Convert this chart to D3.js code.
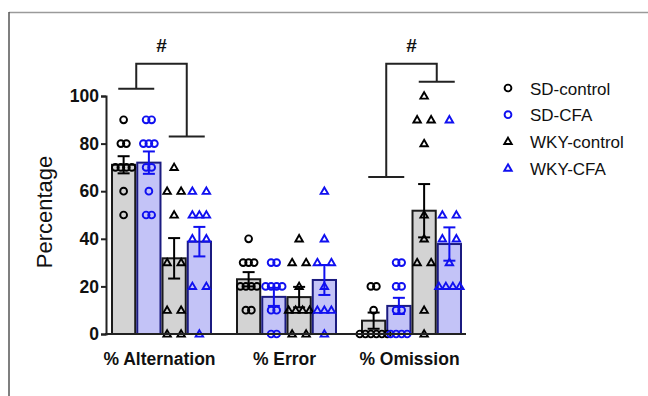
<!DOCTYPE html>
<html>
<head>
<meta charset="utf-8">
<script src="https://cdn.jsdelivr.net/npm/d3@7"></script>
<style>
  body { margin: 0; background: #fff; }
  text { font-family: Arial, "Liberation Sans", sans-serif; }
</style>
</head>
<body>
<div class="chart"></div>
<script>
var categories = ["% Alternation", "% Error", "% Omission"];
var seriesNames = ["SD-control", "SD-CFA", "WKY-control", "WKY-CFA"];
var yTicks = [0, 20, 40, 60, 80, 100];

// bar heights (mean) and SEM per category
var sdControlMean = [71.1, 23, 5.6];
var sdCfaMean = [72, 15.6, 11.8];
var wkyControlMean = [31.8, 15.5, 51.8];
var wkyCfaMean = [38.8, 22.7, 37.8];

var sdControlSem = [3.6, 3, 3.4];
var sdCfaSem = [4.7, 3.8, 3.4];
var wkyControlSem = [8.5, 4.3, 11.2];
var wkyCfaSem = [6.2, 6.3, 7];

// individual animals
var sdControlPts = [
    [90, 80, 80, 70, 70, 70, 70, 60, 50],
    [40, 30, 30, 30, 20, 20, 20, 20, 10, 10],
    [20, 20, 10, 0, 0, 0, 0, 0, 0]
];
var sdCfaPts = [
    [90, 90, 80, 80, 80, 70, 70, 60, 50, 50],
    [30, 30, 20, 20, 20, 20, 10, 10, 0, 0],
    [30, 30, 20, 20, 10, 10, 0, 0, 0, 0]
];
var wkyControlPts = [
    [70, 60, 60, 50, 30, 30, 10, 10, 0, 0],
    [40, 30, 30, 20, 10, 10, 10, 10, 0, 0],
    [100, 90, 90, 80, 50, 40, 30, 30, 10, 0]
];
var wkyCfaPts = [
    [60, 60, 50, 50, 50, 40, 40, 20, 20, 0],
    [60, 40, 30, 30, 20, 10, 10, 10, 0],
    [90, 50, 50, 40, 40, 30, 20, 20, 20, 20]
];

// significance brackets (values in % units)
var brackets = [
    { cat: "% Alternation", leftFoot: 103, rightFoot: 83, top: 113.5 },
    { cat: "% Omission", leftFoot: 66, rightFoot: 106, top: 113.5 }
];

var series = [
    { name: seriesNames[0], mean: sdControlMean, sem: sdControlSem, pts: sdControlPts, shape: "circle", color: "#000", bar: "#d3d3d3", edge: "#1a1a1a" },
    { name: seriesNames[1], mean: sdCfaMean, sem: sdCfaSem, pts: sdCfaPts, shape: "circle", color: "#1010f0", bar: "#c3c3f7", edge: "#1b1b80" },
    { name: seriesNames[2], mean: wkyControlMean, sem: wkyControlSem, pts: wkyControlPts, shape: "triangle", color: "#000", bar: "#d3d3d3", edge: "#1a1a1a" },
    { name: seriesNames[3], mean: wkyCfaMean, sem: wkyCfaSem, pts: wkyCfaPts, shape: "triangle", color: "#1010f0", bar: "#c3c3f7", edge: "#1b1b80" }
];

var W = 648, H = 396;

var svg = d3.select('.chart')
    .append('svg')
    .attr('width', W)
    .attr('height', H)
    .style('display', 'block');

// panel frame
svg.append('line').attr('x1', 9).attr('x2', W).attr('y1', 12.5).attr('y2', 12.5)
    .attr('stroke', '#9a9a9a').attr('stroke-width', 1.5);
svg.append('line').attr('x1', 9).attr('x2', 9).attr('y1', 12).attr('y2', H)
    .attr('stroke', '#555').attr('stroke-width', 1.5);

var yScale = d3.scaleLinear().domain([0, 100]).range([334, 96]);

var x0 = d3.scaleBand()
    .domain(categories)
    .range([111.5, 461.5])
    .paddingInner(0.2)
    .paddingOuter(0);

var x1 = d3.scaleBand()
    .domain(seriesNames)
    .range([0, x0.bandwidth()])
    .paddingInner(0.08)
    .paddingOuter(0.02);

function cx(cat, name) {
    return x0(cat) + x1(name) + x1.bandwidth() / 2;
}

var triangle = d3.symbol().type(d3.symbolTriangle).size(24);

// bars
series.forEach(function (s) {
    var g = svg.append('g');
    g.selectAll('rect')
        .data(categories)
        .enter()
        .append('rect')
        .attr('x', function (c) { return x0(c) + x1(s.name); })
        .attr('y', function (c, i) { return yScale(s.mean[i]); })
        .attr('width', x1.bandwidth())
        .attr('height', function (c, i) { return yScale(0) - yScale(s.mean[i]); })
        .attr('fill', s.bar)
        .attr('stroke', s.edge)
        .attr('stroke-width', 2);
});

// points, spread sideways when values coincide
series.forEach(function (s) {
    var g = svg.append('g');
    categories.forEach(function (c, i) {
        var counts = d3.rollup(s.pts[i], function (v) { return v.length; }, function (d) { return d; });
        var seen = new Map();
        s.pts[i].forEach(function (v) {
            var n = counts.get(v);
            var j = seen.get(v) || 0;
            seen.set(v, j + 1);
            var step = s.shape === "circle" ? 5.5 : (n == 2 ? 14 : 7);
            var px = cx(c, s.name) + (j - (n - 1) / 2) * step;
            var py = yScale(v);
            if (s.shape === "circle") {
                g.append('circle')
                    .attr('cx', px).attr('cy', py).attr('r', 3.4)
                    .attr('fill', 'none').attr('stroke', s.color).attr('stroke-width', 1.9);
            } else {
                g.append('path')
                    .attr('d', triangle)
                    .attr('transform', 'translate(' + px + ',' + (py + 0.5) + ')')
                    .attr('fill', 'none').attr('stroke', s.color).attr('stroke-width', 1.9);
            }
        });
    });
});

// error bars
series.forEach(function (s) {
    var g = svg.append('g').attr('stroke', s.color).attr('stroke-width', 2);
    categories.forEach(function (c, i) {
        var x = cx(c, s.name);
        var lo = yScale(s.mean[i] - s.sem[i]);
        var hi = yScale(s.mean[i] + s.sem[i]);
        g.append('line').attr('x1', x).attr('x2', x).attr('y1', lo).attr('y2', hi);
        g.append('line').attr('x1', x - 6).attr('x2', x + 6).attr('y1', lo).attr('y2', lo);
        g.append('line').attr('x1', x - 6).attr('x2', x + 6).attr('y1', hi).attr('y2', hi);
    });
});

// axes
var yAxis = d3.axisLeft(yScale).tickValues(yTicks).tickSize(5).tickPadding(2);
var gy = svg.append('g').attr('transform', 'translate(106,0)').call(yAxis);
gy.select('.domain').attr('stroke', '#222').attr('stroke-width', 2);
gy.selectAll('.tick line').attr('stroke', '#222').attr('stroke-width', 2);
gy.selectAll('.tick text')
    .attr('font-size', 17.5).attr('font-weight', 'bold').attr('fill', '#111')
    .style('font-family', 'Arial, "Liberation Sans", sans-serif');

svg.append('line')
    .attr('x1', 105).attr('x2', 466)
    .attr('y1', yScale(0)).attr('y2', yScale(0))
    .attr('stroke', '#222').attr('stroke-width', 2);

svg.selectAll('.cat-label')
    .data(categories)
    .enter()
    .append('text')
    .attr('class', 'cat-label')
    .attr('x', function (c) { return x0(c) + x0.bandwidth() / 2 - 2; })
    .attr('y', 365)
    .attr('text-anchor', 'middle')
    .attr('font-size', 17.5)
    .attr('font-weight', 'bold')
    .attr('fill', '#111')
    .text(function (c) { return c; });

svg.append('text')
    .attr('transform', 'translate(52,212) rotate(-90)')
    .attr('text-anchor', 'middle')
    .attr('font-size', 22)
    .attr('fill', '#111')
    .text('Percentage');

// significance brackets
brackets.forEach(function (b) {
    var lx = (cx(b.cat, seriesNames[0]) + cx(b.cat, seriesNames[1])) / 2;
    var rx = (cx(b.cat, seriesNames[2]) + cx(b.cat, seriesNames[3])) / 2;
    var g = svg.append('g').attr('stroke', '#222').attr('stroke-width', 2).attr('fill', 'none');
    g.append('path').attr('d',
        'M' + lx + ',' + yScale(b.leftFoot) + 'V' + yScale(b.top) +
        'H' + rx + 'V' + yScale(b.rightFoot));
    g.append('line').attr('x1', lx - 18).attr('x2', lx + 18)
        .attr('y1', yScale(b.leftFoot)).attr('y2', yScale(b.leftFoot));
    g.append('line').attr('x1', rx - 18).attr('x2', rx + 18)
        .attr('y1', yScale(b.rightFoot)).attr('y2', yScale(b.rightFoot));
    svg.append('text')
        .attr('x', (lx + rx) / 2)
        .attr('y', 52)
        .attr('text-anchor', 'middle')
        .attr('font-size', 19)
        .attr('font-weight', 'bold')
        .attr('fill', '#111')
        .text('#');
});

// legend
var legend = svg.append('g').attr('transform', 'translate(508,88)');
series.forEach(function (s, i) {
    var row = legend.append('g').attr('transform', 'translate(0,' + (i * 26.7) + ')');
    if (s.shape === "circle") {
        row.append('circle').attr('r', 3.4)
            .attr('fill', 'none').attr('stroke', s.color).attr('stroke-width', 1.9);
    } else {
        row.append('path').attr('d', triangle).attr('transform', 'translate(0,0.5)')
            .attr('fill', 'none').attr('stroke', s.color).attr('stroke-width', 1.9);
    }
    row.append('text')
        .attr('x', 22)
        .attr('y', 6.5)
        .attr('font-size', 17)
        .attr('fill', '#111')
        .text(s.name);
});
</script>
</body>
</html>
